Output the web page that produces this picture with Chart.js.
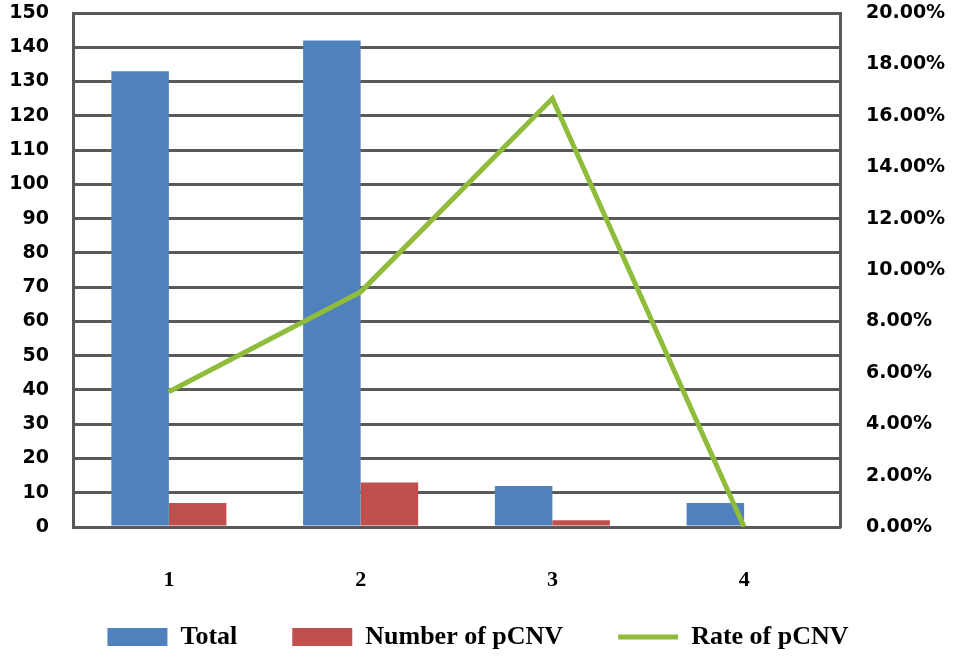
<!DOCTYPE html>
<html>
<head>
<meta charset="utf-8">
<script src="https://cdn.jsdelivr.net/npm/chart.js@4.4.0/dist/chart.umd.min.js"></script>
<style>
  html, body { margin: 0; padding: 0; background: #fff; }
  #wrap { width: 956px; height: 659px; }
</style>
</head>
<body>
<div id="wrap"><canvas id="cnv"></canvas></div>
<script>
const groups = ['1', '2', '3', '4'];
const totalCases = [133, 142, 12, 7];
const pcnvCases = [7, 13, 2, 0];
const pcnvRate = [5.26, 9.15, 16.67, 0];

const tickFont = { family: 'DejaVu Sans', size: 19, weight: 'bold' };
const xFont = { family: 'Liberation Serif', size: 22, weight: 'bold' };
const legendFont = { family: 'Liberation Serif', size: 26, weight: 'bold' };

// drop the half-label padding the value axes ask for, so the frame reaches the top
function noVertPad(s) {
    s.paddingTop = 0;
    s.paddingBottom = 0;
}

// legend padding is wide for the gaps between items, pull the row back up
const liftLegend = {
    id: 'liftLegend',
    afterLayout(chart) {
        chart.legend.top -= 23;
        chart.legend.height += 23;
    }
};

const ctx = document.getElementById('cnv').getContext('2d');
const chart = new Chart(ctx, {
    type: 'bar',
    data: {
        labels: groups,
        datasets: [
            {
                label: 'Total',
                data: totalCases,
                backgroundColor: '#4f81bd',
                pointStyle: 'rect',
                yAxisID: 'y',
                order: 2,
            },
            {
                label: 'Number of pCNV',
                data: pcnvCases,
                backgroundColor: '#c0504d',
                pointStyle: 'rect',
                yAxisID: 'y',
                order: 2,
            },
            {
                type: 'line',
                label: 'Rate of pCNV',
                data: pcnvRate,
                borderColor: '#8fbc3a',
                backgroundColor: '#8fbc3a',
                borderWidth: 5,
                pointRadius: 0,
                pointStyle: 'line',
                yAxisID: 'y1',
                order: 1,
            }
        ]
    },
    plugins: [liftLegend],
    options: {
        responsive: true,
        maintainAspectRatio: false,
        animation: false,
        layout: { padding: { top: 13, left: 0, right: 0, bottom: 0 } },
        datasets: {
            bar: { categoryPercentage: 0.6, barPercentage: 1.0 }
        },
        plugins: {
            tooltip: { enabled: false },
            legend: {
                position: 'bottom',
                maxHeight: 67,
                labels: {
                    usePointStyle: true,
                    pointStyleWidth: 60,
                    boxHeight: 18,
                    padding: 55,
                    color: '#000',
                    font: legendFont,
                    sort: (a, b) => a.datasetIndex - b.datasetIndex,
                }
            }
        },
        scales: {
            x: {
                grid: { display: false },
                border: { display: true, color: '#595959', width: 3 },
                ticks: { color: '#000', font: xFont, padding: 32 },
                afterFit: (s) => { s.height = 65; }
            },
            y: {
                position: 'left',
                min: 0,
                max: 150,
                ticks: { stepSize: 10, color: '#000', font: tickFont, padding: 24 },
                grid: { color: '#595959', lineWidth: 3, drawTicks: false },
                border: { display: true, color: '#595959', width: 3 },
                afterFit: (s) => { s.width = 73; noVertPad(s); }
            },
            y1: {
                position: 'right',
                min: 0,
                max: 20,
                ticks: {
                    stepSize: 2,
                    color: '#000',
                    font: tickFont,
                    padding: 26,
                    callback: (v) => v.toFixed(2) + '%'
                },
                grid: { display: false, drawTicks: false },
                border: { display: true, color: '#595959', width: 3 },
                afterFit: (s) => { s.width = 116; noVertPad(s); }
            }
        }
    }
});
</script>
</body>
</html>
